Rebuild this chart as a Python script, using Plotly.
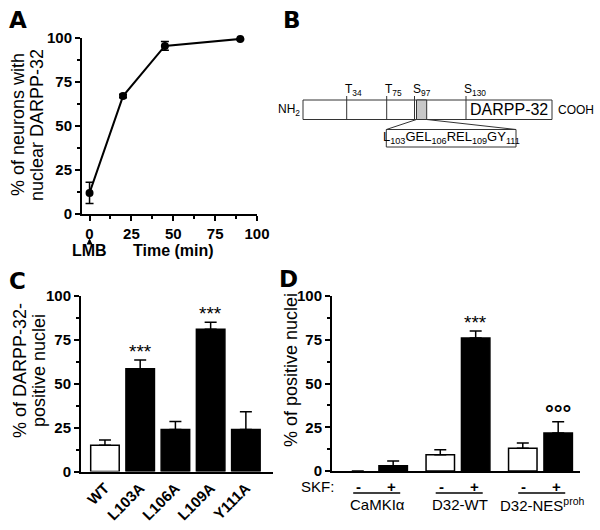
import plotly.graph_objects as go

W, H = 600, 530

# ---------------- data ----------------
# Panel A
time_min = [0, 20, 45, 90]
nuclear_pct = [12, 67, 95.5, 99.5]
nuclear_err = [6, 1, 2.5, 0.5]

# Panel C
mutants = ["WT", "L103A", "L106A", "L109A", "Y111A"]
mutant_pct = [15, 58.5, 24, 81, 24]
mutant_err = [3, 5, 4.5, 4, 10]
mutant_sig = ["", "***", "", "***", ""]
mutant_fill = ["white", "black", "black", "black", "black"]

# Panel D
constructs = ["CaMKIα", "D32-WT", "D32-NES<sup>proh</sup>"]
skf_minus = [0, 9.3, 13]
skf_minus_err = [0, 2.8, 3]
skf_plus = [3, 76, 21.7]
skf_plus_err = [2.7, 4, 6.5]
plus_sig = ["", "***", "°°°"]

# Panel B labels
site_labels = ["T<sub>34</sub>", "T<sub>75</sub>", "S<sub>97</sub>", "S<sub>130</sub>"]
nes_label = "L<sub>103</sub>GEL<sub>106</sub>REL<sub>109</sub>GY<sub>111</sub>"

FONT = "Liberation Sans, Arial, sans-serif"


def px(x):
    return x / W


def py(y):
    return 1 - y / H


fig = go.Figure()

# ---------------- Panel A ----------------
fig.add_trace(go.Scatter(
    x=time_min, y=nuclear_pct, mode="lines+markers",
    line=dict(color="black", width=2),
    marker=dict(color="black", size=8),
    error_y=dict(type="data", array=nuclear_err, color="black", thickness=1.5, width=4),
    cliponaxis=False, xaxis="x", yaxis="y", showlegend=False,
))

# ---------------- Panel C ----------------
fig.add_trace(go.Bar(
    x=mutants, y=mutant_pct,
    marker=dict(color=mutant_fill, line=dict(color="black", width=1.5)),
    width=0.81,
    error_y=dict(type="data", array=mutant_err, arrayminus=[0] * len(mutants),
                 symmetric=False, color="black", thickness=1.5, width=6),
    xaxis="x2", yaxis="y2", showlegend=False,
))

# ---------------- Panel D ----------------
fig.add_trace(go.Bar(
    x=constructs, y=skf_minus, offset=-0.387, width=0.345,
    marker=dict(color="white", line=dict(color="black", width=[0, 1.5, 1.5])),
    error_y=dict(type="data", array=skf_minus_err, arrayminus=[0] * 3,
                 symmetric=False, color="black", thickness=1.5, width=6),
    xaxis="x3", yaxis="y3", showlegend=False,
))
fig.add_trace(go.Bar(
    x=constructs, y=skf_plus, offset=0.042, width=0.345,
    marker=dict(color="black", line=dict(color="black", width=1.5)),
    error_y=dict(type="data", array=skf_plus_err, arrayminus=[0] * 3,
                 symmetric=False, color="black", thickness=1.5, width=6),
    xaxis="x3", yaxis="y3", showlegend=False,
))

tickfont = dict(family=FONT, size=15, color="black", weight="bold")
common_axis = dict(showline=True, linecolor="black", linewidth=2, ticks="outside",
                   ticklen=5, tickwidth=2, tickcolor="black", showgrid=False,
                   zeroline=False, tickfont=tickfont, fixedrange=True, automargin=False)
yaxis_common = dict(common_axis, range=[0, 100], tick0=0, dtick=25,
                    minor=dict(dtick=12.5, tick0=0, ticklen=3, tickwidth=2,
                               ticks="outside", tickcolor="black", showgrid=False))

fig.update_layout(
    template="none",
    width=W, height=H, margin=dict(l=0, r=0, t=0, b=0, autoexpand=False),
    paper_bgcolor="white", plot_bgcolor="white",
    barmode="overlay", showlegend=False,
    font=dict(family=FONT, color="black"),
    xaxis=dict(common_axis, domain=[px(82), px(257)], range=[-4.5, 100], tick0=0, dtick=25,
               minor=dict(dtick=12.5, tick0=0, ticklen=3, tickwidth=2, ticks="outside",
                          tickcolor="black", showgrid=False),
               anchor="y"),
    yaxis=dict(yaxis_common, domain=[py(214), py(38)], anchor="x"),
    xaxis2=dict(common_axis, domain=[px(81), px(273)], range=[-0.68, 4.77], ticks="",
                tickangle=-45, type="category", anchor="y2"),
    yaxis2=dict(yaxis_common, domain=[py(471.5), py(296)], anchor="x2"),
    xaxis3=dict(common_axis, domain=[px(332), px(580)], range=[-0.527, 2.479], ticks="",
                showticklabels=False, type="category", anchor="y3"),
    yaxis3=dict(yaxis_common, domain=[py(471), py(296)], anchor="x3"),
)

ann = []


def text(x, y, s, size=15, bold=False, xanchor="center", yanchor="middle", angle=0,
         family=FONT, xref="paper", yref="paper", yshift=0):
    ann.append(dict(x=x, y=y, xref=xref, yref=yref, text=s, showarrow=False,
                    xanchor=xanchor, yanchor=yanchor, textangle=angle, yshift=yshift,
                    font=dict(family=family, size=size, color="black",
                              weight="bold" if bold else "normal")))


# panel letters
for letter, (lx, ly) in zip("ABCD", [(18, 20), (292, 20), (17, 281), (288, 279)]):
    text(px(lx), py(ly), letter, size=23, bold=True, family="DejaVu Sans")

# axis titles
text(px(18), py(125), "% of neurons with", size=18, angle=-90)
text(px(37), py(125), "nuclear DARPP-32", size=18, angle=-90)
text(px(20), py(371), "% of DARPP-32-", size=18, angle=-90)
text(px(39), py(371), "positive nuclei", size=18, angle=-90)
text(px(291), py(370), "% of positive nuclei", size=18, angle=-90)

# Panel A bottom labels
text(px(89.5), py(250), "LMB", size=16, bold=True)
text(50, py(250), "Time (min)", size=16, bold=True, xref="x")
ann.append(dict(x=0, y=py(238.5), xref="x", yref="paper", ax=0, ay=7, text="",
                showarrow=True, arrowhead=2, arrowsize=0.8, arrowwidth=1.5,
                arrowcolor="black"))

# significance marks C
for cat, v, e, s in zip(mutants, mutant_pct, mutant_err, mutant_sig):
    if s:
        text(cat, v + e, s, size=19, bold=False, xref="x2", yref="y2",
             yanchor="bottom", yshift=-4)

# significance marks D
for i, (v, e, s) in enumerate(zip(skf_plus, skf_plus_err, plus_sig)):
    if s:
        text(i + 0.2145, v + e, s, size=19 if s == "***" else 22, bold=(s != "***"),
             xref="x3", yref="y3", yanchor="bottom", yshift=-4 if s == "***" else -6)

# D bottom labels
text(px(317.7), py(486.5), "SKF:", size=15)
shapes = []
for i, c in enumerate(constructs):
    text(i - 0.2, py(486.5), "-", size=15, bold=True, xref="x3")
    text(i + 0.2, py(486.5), "+", size=15, bold=True, xref="x3")
    text(i + 0.02, py(504.5), c, size=15, xref="x3")
    shapes.append(dict(type="line", xref="x3", yref="paper", x0=i - 0.27, x1=i + 0.3,
                       y0=py(493), y1=py(493), line=dict(color="black", width=1.5)))

# ---------------- Panel B diagram ----------------
lc = "#333333"


def rect(x0, y0, x1, y1, fill="rgba(0,0,0,0)", w=1):
    shapes.append(dict(type="rect", xref="paper", yref="paper", x0=px(x0), x1=px(x1),
                       y0=py(y1), y1=py(y0), fillcolor=fill, line=dict(color=lc, width=w)))


def line(x0, y0, x1, y1, w=1):
    shapes.append(dict(type="line", xref="paper", yref="paper", x0=px(x0), x1=px(x1),
                       y0=py(y0), y1=py(y1), line=dict(color=lc, width=w)))


rect(303, 100, 552, 119.5)
rect(416.5, 100, 426.7, 119.5, fill="#c8c8c8")
site_x = [346.7, 386.7, 414.5, 466]
for sx in site_x:
    line(sx, 96, sx, 119.5)
rect(386.3, 129.5, 516, 147)
line(416.5, 119.5, 386.3, 129.5)
line(426.7, 119.5, 516, 129.5)

for sx, lab in zip(site_x, site_labels):
    text(px(sx - 4), py(90), lab, size=12, xanchor="left")
text(px(509), py(110), "DARPP-32", size=16)
text(px(302), py(110), "NH<sub>2</sub>", size=12, xanchor="right")
text(px(556), py(110), "COOH", size=12, xanchor="left")
text(px(451), py(138), nes_label, size=13)

fig.update_layout(annotations=ann, shapes=shapes)
fig.write_html(
    "out.html",
    config={"displayModeBar": False},
    post_script="document.body.style.margin='0';document.body.style.overflow='hidden';",
)
